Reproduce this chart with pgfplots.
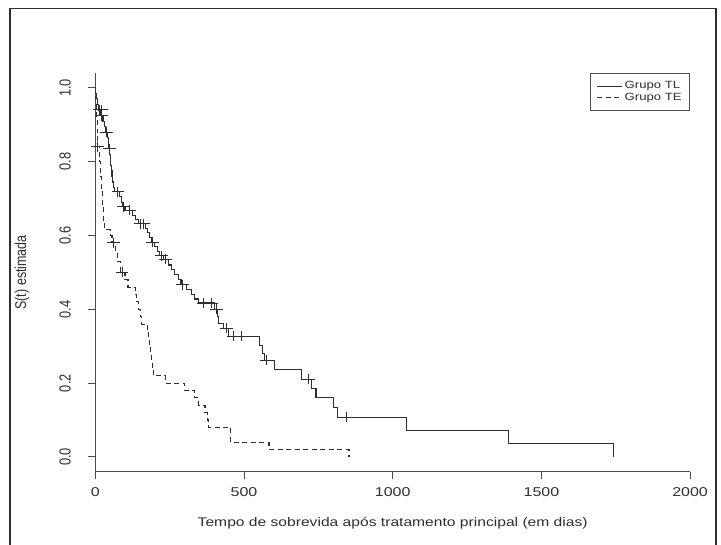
\documentclass[border=0pt]{standalone}
\usepackage{fontspec}
\setmainfont{Liberation Sans}
\newfontfamily\hfont{Liberation Sans}[FakeStretch=1.25]
\newfontfamily\vfont{Liberation Sans}[FakeStretch=0.8]
\usepackage{pgfplots}
\pgfplotsset{compat=1.18}
\definecolor{ink}{HTML}{2E2E2E}
\definecolor{axc}{HTML}{4D4D4D}
\pgfplotstableread{
t s
0 1.0
2 0.985
4 0.97
7 0.955
10 0.94
18 0.925
26 0.91
30 0.895
33 0.88
40 0.865
43 0.85
45 0.835
48 0.82
50 0.805
52 0.79
54 0.775
56 0.76
58 0.745
61 0.73
64 0.718
82 0.705
88 0.69
93 0.678
100 0.668
124 0.655
135 0.643
145 0.632
168 0.62
176 0.607
182 0.595
188 0.582
200 0.57
208 0.557
216 0.545
228 0.535
245 0.52
255 0.507
265 0.494
280 0.48
288 0.467
308 0.453
322 0.44
335 0.428
348 0.417
400 0.40
411 0.38
413 0.362
430 0.348
447 0.327
552 0.302
563 0.28
568 0.262
604 0.237
692 0.211
726 0.185
742 0.16
802 0.133
814 0.107
1045 0.071
1389 0.0355
1743 0.0
}\tabTL
\pgfplotstableread{
t s
14 0.94
20 0.94
22 0.925
37 0.88
47 0.835
76 0.718
95 0.678
116 0.668
153 0.632
163 0.632
192 0.582
222 0.545
236 0.535
294 0.467
363 0.417
391 0.417
408 0.40
440 0.348
464 0.327
492 0.327
574 0.262
717 0.211
846 0.107
}\cenTL
\pgfplotstableread{
t s
0 1.0
2 0.96
4 0.92
6 0.88
8 0.84
14 0.80
17 0.76
20 0.72
24 0.68
28 0.64
31 0.615
50 0.60
56 0.58
68 0.555
75 0.53
84 0.50
100 0.48
110 0.46
134 0.44
140 0.42
146 0.40
152 0.38
156 0.36
176 0.34
179 0.32
182 0.30
185 0.28
188 0.26
191 0.24
195 0.22
236 0.20
300 0.18
335 0.16
348 0.14
369 0.12
376 0.10
381 0.08
456 0.04
584 0.02
853 0.0
}\tabTE
\pgfplotstableread{
t s
8 0.84
62 0.58
90 0.50
}\cenTE
\begin{document}
\begin{tikzpicture}[x=1pt,y=1pt]
\path[use as bounding box] (0,0) rectangle (721,545);
\draw[ink, line width=1.3pt] (10,0) -- (10,536.5) -- (716,536.5) -- (716,0);
\begin{axis}[
  at={(95.3pt,73.3pt)}, anchor=south west,
  scale only axis, width=594.8pt, height=398.6pt,
  xmin=0, xmax=2000, ymin=-0.04, ymax=1.04,
  axis lines=left, axis line style={-, axc, line width=1pt},
  tick align=outside, major tick length=7pt,
  tick style={axc, line width=1pt},
  xtick={0,500,1000,1500,2000}, xticklabels={0,500,1000,1500,2000},
  ytick={0,0.2,0.4,0.6,0.8,1.0}, yticklabels={0.0,0.2,0.4,0.6,0.8,1.0},
  xticklabel style={font=\hfont\fontsize{12.8}{14}\selectfont, text=ink, yshift=-5pt},
  yticklabel style={font=\vfont\fontsize{16}{17}\selectfont, text=ink, xshift=-14pt, rotate=90, anchor=south},
  xlabel={Tempo de sobrevida após tratamento principal (em dias)},
  ylabel={S(t) estimada},
  every axis x label/.style={at={(rel axis cs:0.5,0)}, yshift=-51.3pt, anchor=center, font=\hfont\fontsize{12.5}{14}\selectfont, text=ink},
  every axis y label/.style={at={(rel axis cs:0,0.5)}, xshift=-73.3pt, rotate=90, anchor=center, font=\vfont\fontsize{15.6}{17}\selectfont, text=ink},
  legend style={at={(1,1)}, anchor=north east, draw=axc, line width=1pt, font=\hfont\fontsize{10.5}{11}\selectfont, text=ink, inner xsep=6pt, inner ysep=6pt, row sep=-1pt},
  legend cell align=left,
  legend image code/.code={\draw[#1, line width=0.9pt] (0pt,0pt) -- (25pt,0pt);},
  clip=false,
]
\addplot[const plot, ink, line width=1.1pt] table[x=t,y=s] {\tabTL};
\addlegendentry{Grupo TL}
\addplot[const plot, ink, line width=1.1pt, dash pattern=on 5pt off 3.5pt] table[x=t,y=s] {\tabTE};
\addlegendentry{Grupo TE}
\addplot[only marks, mark=+, mark size=5pt, mark options={xscale=1.27, ink, line width=1pt, solid}, forget plot] table[x=t,y=s] {\cenTL};
\addplot[only marks, mark=+, mark size=5pt, mark options={xscale=1.27, ink, line width=1pt, solid}, forget plot] table[x=t,y=s] {\cenTE};
\end{axis}
\end{tikzpicture}
\end{document}
